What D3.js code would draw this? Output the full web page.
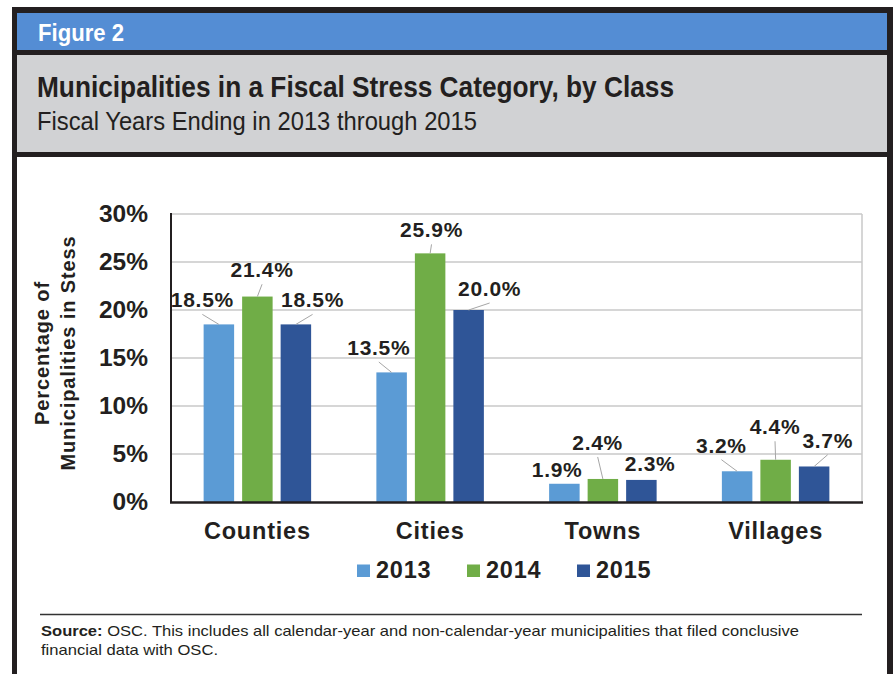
<!DOCTYPE html>
<html><head><meta charset="utf-8">
<script src="https://cdn.jsdelivr.net/npm/d3@7"></script>
<style>body{margin:0;background:#fff}svg{display:block}</style>
</head><body><svg id="c" width="893" height="674"></svg>
<script>
const categories = ["Counties", "Cities", "Towns", "Villages"];
const years = ["2013", "2014", "2015"];
const values2013 = [18.5, 13.5, 1.9, 3.2];
const values2014 = [21.4, 25.9, 2.4, 4.4];
const values2015 = [18.5, 20.0, 2.3, 3.7];
const yTicks = [0, 5, 10, 15, 20, 25, 30];
const seriesColors = ["#5b9bd5", "#70ad47", "#2f5597"];
// data-label placement: [dx from bar centre, dy from bar top, has leader line]
const labelPos2013 = [[-16.5, -17, 1], [-12.8, -17.4, 1], [-7.2, -7, 0], [-15.7, -18.6, 1]];
const labelPos2014 = [[4.7, -19.3, 1], [1.4, -16, 1], [-5.2, -29, 1], [-0.6, -25.5, 1]];
const labelPos2015 = [[16.7, -17, 1], [21, -14, 1], [8.8, -9, 0], [13.6, -18.8, 1]];

const series = [
  {year: years[0], values: values2013, pos: labelPos2013, color: seriesColors[0]},
  {year: years[1], values: values2014, pos: labelPos2014, color: seriesColors[1]},
  {year: years[2], values: values2015, pos: labelPos2015, color: seriesColors[2]}
];

const svg = d3.select("#c");
const narrow = "'Liberation Sans Narrow','Arial Narrow','Liberation Sans',Arial,sans-serif";
const sans = "'Liberation Sans',Arial,Helvetica,sans-serif";

// Frame
svg.append("rect").attr("x", 12).attr("y", 7).attr("width", 881).attr("height", 667).attr("fill", "#231f20");
svg.append("rect").attr("x", 17).attr("y", 13).attr("width", 870).attr("height", 37).attr("fill", "#548dd4");
svg.append("rect").attr("x", 17).attr("y", 55).attr("width", 870).attr("height", 97).attr("fill", "#d1d2d4");
svg.append("rect").attr("x", 17).attr("y", 157).attr("width", 870).attr("height", 517).attr("fill", "#ffffff");

svg.append("text").attr("x", 38).attr("y", 41).attr("fill", "#fff")
  .attr("font-family", narrow).attr("font-weight", "bold").attr("font-size", 23)
  .attr("textLength", 86).attr("lengthAdjust", "spacingAndGlyphs").text("Figure 2");
svg.append("text").attr("x", 37).attr("y", 97).attr("fill", "#231f20")
  .attr("font-family", narrow).attr("font-weight", "bold").attr("font-size", 30)
  .attr("textLength", 637).attr("lengthAdjust", "spacingAndGlyphs")
  .text("Municipalities in a Fiscal Stress Category, by Class");
svg.append("text").attr("x", 37).attr("y", 130).attr("fill", "#231f20")
  .attr("font-family", narrow).attr("font-size", 25)
  .attr("textLength", 440).attr("lengthAdjust", "spacingAndGlyphs")
  .text("Fiscal Years Ending in 2013 through 2015");

// Scales
const x0 = d3.scaleBand().domain(categories).range([171, 862]).padding(0);
const x1 = d3.scaleBand().domain(years).range([-53.75, 53.75]).paddingInner(0.208).paddingOuter(0);
const y = d3.scaleLinear().domain([0, 30]).range([502, 214]);

// Gridlines
svg.append("g").selectAll("line").data(yTicks.filter(d => d > 0)).join("line")
  .attr("x1", 171).attr("x2", 862).attr("y1", d => y(d)).attr("y2", d => y(d))
  .attr("stroke", "#c8c8c8").attr("stroke-width", 1.5);
svg.append("line").attr("x1", 862).attr("x2", 862).attr("y1", y(30)).attr("y2", y(0))
  .attr("stroke", "#c8c8c8").attr("stroke-width", 1.5);

// Y axis labels
const yAxis = svg.append("g").attr("transform", "translate(171,0)")
  .call(d3.axisLeft(y).tickValues(yTicks).tickFormat(d => d + "%").tickSize(0).tickPadding(23));
yAxis.select(".domain").remove();
yAxis.selectAll("text").attr("font-family", sans).attr("font-weight", "bold")
  .attr("font-size", 24.5).attr("fill", "#231f20");

// Bars
const groups = svg.append("g").selectAll("g").data(series).join("g").attr("fill", d => d.color);
groups.selectAll("rect").data(s => s.values.map((v, i) => ({v, cat: categories[i], year: s.year})))
  .join("rect")
  .attr("x", d => x0(d.cat) + x0.bandwidth() / 2 + x1(d.year))
  .attr("width", x1.bandwidth())
  .attr("y", d => y(d.v))
  .attr("height", d => y(0) - y(d.v));

// Data labels + leader lines
series.forEach(s => {
  s.values.forEach((v, i) => {
    const cx = x0(categories[i]) + x0.bandwidth() / 2 + x1(s.year) + x1.bandwidth() / 2;
    const top = y(v);
    const [dx, dy, lead] = s.pos[i];
    const lx = cx + dx, ly = top + dy;
    if (lead) {
      svg.append("line").attr("x1", lx).attr("y1", ly + 7).attr("x2", cx).attr("y2", top)
        .attr("stroke", "#a6a6a6").attr("stroke-width", 1);
    }
    svg.append("text").attr("x", lx).attr("y", ly).attr("text-anchor", "middle")
      .attr("font-family", sans).attr("font-weight", "bold").attr("font-size", 21)
      .attr("letter-spacing", 0.7).attr("fill", "#231f20")
      .text(d3.format(".1f")(v) + "%");
  });
});

// Axis lines
svg.append("line").attr("x1", 171).attr("x2", 171).attr("y1", 213).attr("y2", 503)
  .attr("stroke", "#231f20").attr("stroke-width", 2);
svg.append("line").attr("x1", 170).attr("x2", 863).attr("y1", 502.5).attr("y2", 502.5)
  .attr("stroke", "#231f20").attr("stroke-width", 2.5);

// X axis labels
const xAxis = svg.append("g").attr("transform", "translate(0,502)")
  .call(d3.axisBottom(x0).tickSize(0));
xAxis.select(".domain").remove();
xAxis.selectAll("text").attr("y", 37).attr("dy", 0)
  .attr("font-family", sans).attr("font-weight", "bold").attr("font-size", 23.5)
  .attr("letter-spacing", 0.8).attr("fill", "#231f20");

// Y axis title
const yt = svg.append("text").attr("transform", "translate(49,353) rotate(-90)")
  .attr("text-anchor", "middle").attr("font-family", sans).attr("font-weight", "bold")
  .attr("font-size", 20).attr("letter-spacing", 0.9).attr("fill", "#231f20");
yt.append("tspan").attr("x", 0).attr("y", 0).text("Percentage of");
yt.append("tspan").attr("x", 0).attr("y", 26).text("Municipalities in Stess");

// Legend
const legendX = [357, 467, 577];
const lg = svg.append("g").selectAll("g").data(series).join("g")
  .attr("transform", (d, i) => `translate(${legendX[i]},0)`);
lg.append("rect").attr("x", 0).attr("y", 564.5).attr("width", 13).attr("height", 12.5).attr("fill", d => d.color);
lg.append("text").attr("x", 19).attr("y", 578).attr("font-family", sans).attr("font-weight", "bold")
  .attr("font-size", 23.5).attr("letter-spacing", 0.8).attr("fill", "#231f20").text(d => d.year);

// Source
svg.append("line").attr("x1", 40).attr("x2", 862).attr("y1", 614.5).attr("y2", 614.5)
  .attr("stroke", "#333").attr("stroke-width", 1.5);
const src1 = svg.append("text").attr("x", 41).attr("y", 636).attr("font-family", narrow)
  .attr("font-size", 14.5).attr("fill", "#231f20")
  .attr("textLength", 758).attr("lengthAdjust", "spacingAndGlyphs");
src1.append("tspan").attr("font-weight", "bold").text("Source:");
src1.append("tspan").text(" OSC. This includes all calendar-year and non-calendar-year municipalities that filed conclusive");
svg.append("text").attr("x", 41).attr("y", 655).attr("font-family", narrow)
  .attr("font-size", 14.5).attr("fill", "#231f20")
  .attr("textLength", 177).attr("lengthAdjust", "spacingAndGlyphs").text("financial data with OSC.");
</script></body></html>
